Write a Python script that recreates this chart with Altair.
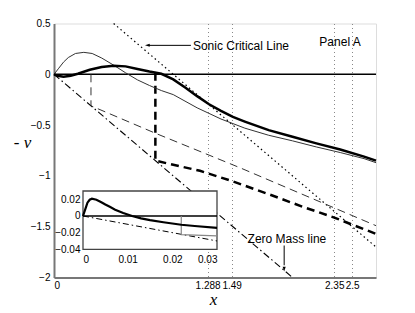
import altair as alt
import pandas as pd

# ---------------- main panel data ----------------
thick_x = [0, 0.03, 0.08, 0.14, 0.2, 0.3, 0.4, 0.5, 0.6, 0.7, 0.8, 0.9, 1.0, 1.1, 1.2, 1.3, 1.4, 1.5, 1.6, 1.8, 2.0, 2.2, 2.4, 2.6, 2.7]
thick_v = [0, -0.015, -0.025, -0.015, 0.005, 0.045, 0.072, 0.085, 0.078, 0.052, 0.027, 0.005, -0.05, -0.13, -0.215, -0.295, -0.36, -0.42, -0.465, -0.55, -0.615, -0.68, -0.74, -0.81, -0.85]

thin_x = [0, 0.04, 0.08, 0.12, 0.18, 0.25, 0.32, 0.4, 0.5, 0.6, 0.7, 0.8, 0.9, 1.0, 1.2, 1.4, 1.6, 1.8, 2.0, 2.2, 2.4, 2.6, 2.7]
thin_v = [0, 0.06, 0.12, 0.165, 0.205, 0.216, 0.205, 0.16, 0.09, 0.015, -0.055, -0.11, -0.16, -0.2, -0.33, -0.44, -0.53, -0.6, -0.655, -0.715, -0.77, -0.83, -0.87]

thickdash_x = [0.85, 0.85, 1.0, 1.224, 1.49, 1.8, 2.1, 2.35, 2.5, 2.7]
thickdash_v = [0.016, -0.85, -0.89, -0.95, -1.05, -1.18, -1.31, -1.41, -1.48, -1.57]

thindash_x = [0.31, 0.31, 0.85, 1.56, 2.7]
thindash_v = [0.0, -0.31, -0.58, -0.92, -1.49]

sonic_x = [0.5, 2.7]
sonic_v = [0.5, -1.7]

zeromass_x = [0.0, 2.0]
zeromass_v = [0.0, -2.0]

zero_x = [0.0, 2.7]
zero_v = [0.0, 0.0]

x_domain = [0, 2.7]
y_domain = [-2, 0.5]
x_ticks = [0, 1.288, 1.49, 2.35, 2.5]
y_ticks = [-2, -1.5, -1, -0.5, 0, 0.5]

# annotations
labels_text = ["Sonic Critical Line", "Panel A"]
labels_x = [1.165, 2.225]
labels_v = [0.275, 0.32]
zm_label = ["Zero Mass line"]
zm_label_x = [1.953]
zm_label_v = [-1.62]
sonic_arrow_x = [1.148, 0.79]
sonic_arrow_v = [0.285, 0.285]
sonic_head = ([0.763], [0.285])
zm_arrow_x = [1.93, 1.93]
zm_arrow_v = [-1.685, -1.88]
zm_head = ([1.93], [-1.94])

# ---------------- inset data ----------------
in_x_domain = [0, 0.03]
in_y_domain = [-0.04, 0.03]
in_x_ticks = [0, 0.01, 0.02, 0.03]
in_y_ticks = [-0.04, -0.02, 0, 0.02]
in_thick_x = [0, 0.0005, 0.001, 0.0015, 0.002, 0.003, 0.004, 0.005, 0.006, 0.0072, 0.009, 0.011, 0.013, 0.015, 0.018, 0.02, 0.022, 0.025, 0.03]
in_thick_v = [0, 0.008, 0.016, 0.0195, 0.0208, 0.0195, 0.0168, 0.0138, 0.011, 0.0076, 0.0035, 0.0, -0.0028, -0.005, -0.0075, -0.009, -0.0105, -0.012, -0.0142]
in_zm_x = [0.0, 0.03]
in_zm_v = [0.0, -0.03]
in_zero_x = [0.0, 0.03]
in_zero_v = [0.0, 0.0]
in_gray_x = [0.022, 0.022, 0.03]
in_gray_v = [0.0, -0.0224, -0.0238]


def df(xs, vs):
    return pd.DataFrame({"x": xs, "v": vs, "i": list(range(len(xs)))})


FONT = "Liberation Sans"
SERIF = "Liberation Serif"

xs = alt.Scale(domain=x_domain, nice=False, zero=False)
ys = alt.Scale(domain=y_domain, nice=False, zero=False)

x_axis = alt.Axis(values=x_ticks, labelExpr="'' + datum.value", grid=True, gridDash=[1, 3],
                  gridColor="#888", gridWidth=1, domain=True, domainColor="#777", domainWidth=2,
                  ticks=False, labelFontSize=10, labelPadding=3, labelOverlap=False,
                  labelColor="black", title="x", titleFont=SERIF, titleFontStyle="italic",
                  titleFontWeight="normal", titleFontSize=17, titleX=159, titleY=26.5,
                  titleAlign="center", titleBaseline="alphabetic", titleColor="black")
y_axis = alt.Axis(values=y_ticks, format="~g", grid=False, domain=True, domainColor="#777",
                  domainWidth=2, ticks=False, labelFontSize=10, labelPadding=4,
                  labelColor="black", title="- v", titleAngle=0, titleX=-32, titleY=119,
                  titleAlign="center", titleBaseline="middle", titleFont=SERIF,
                  titleFontStyle="italic", titleFontWeight="normal", titleFontSize=17,
                  titleColor="black")

X = alt.X("x:Q", scale=xs, axis=x_axis)
Y = alt.Y("v:Q", scale=ys, axis=y_axis)


def mline(d, width, color="black", dash=None):
    kw = dict(strokeWidth=width, color=color)
    if dash:
        kw["strokeDash"] = dash
    return alt.Chart(d).mark_line(**kw).encode(x=X, y=Y, order=alt.Order("i:Q"))


main = alt.layer(
    mline(df(zero_x, zero_v), 1.4),
    mline(df(sonic_x, sonic_v), 1.2, dash=[1.5, 3]),
    mline(df(zeromass_x, zeromass_v), 1.1, dash=[7, 3, 1.5, 3]),
    mline(df(thindash_x, thindash_v), 1.0, color="#333", dash=[8, 5]),
    mline(df(thickdash_x, thickdash_v), 2.5, dash=[8, 5]),
    mline(df(thin_x, thin_v), 1.0, color="#333"),
    mline(df(thick_x, thick_v), 2.5),
    mline(df(sonic_arrow_x, sonic_arrow_v), 1.0),
    mline(df(zm_arrow_x, zm_arrow_v), 1.0),
    alt.Chart(df(*sonic_head)).mark_point(shape="M0,0L1,-0.32L1,0.32Z", filled=True,
                                          color="black", opacity=1, size=90).encode(x=X, y=Y),
    alt.Chart(df(*zm_head)).mark_point(shape="M0,0L-0.32,-1L0.32,-1Z", filled=True,
                                       color="black", opacity=1, size=90).encode(x=X, y=Y),
    alt.Chart(pd.DataFrame({"x": labels_x, "v": labels_v, "t": labels_text})).mark_text(
        align="left", baseline="middle", fontSize=12, font=FONT, color="black").encode(
        x=X, y=Y, text="t:N"),
    alt.Chart(pd.DataFrame({"x": zm_label_x, "v": zm_label_v, "t": zm_label})).mark_text(
        align="center", baseline="middle", fontSize=12, font=FONT, color="black").encode(
        x=X, y=Y, text="t:N"),
)

# ---------------- inset ----------------
ixs = alt.Scale(domain=in_x_domain, range=[29, 163], nice=False, zero=False)
iys = alt.Scale(domain=in_y_domain, range=[225.8, 167.5], nice=False, zero=False)
ix_axis = alt.Axis(orient="bottom", offset=-28.2, values=in_x_ticks, format="~g", grid=False,
                   domain=False, ticks=False, labelFontSize=10, labelPadding=5,
                   labelColor="black", labelOverlap=False, title=None, zindex=1)
iy_axis = alt.Axis(orient="left", offset=-29, values=in_y_ticks, format="~g", grid=False,
                   domain=False, ticks=False, labelFontSize=10, labelPadding=3,
                   labelColor="black", title=None, zindex=1)
IX = alt.X("x:Q", scale=ixs, axis=ix_axis)
IY = alt.Y("v:Q", scale=iys, axis=iy_axis)


def iline(d, width, color="black", dash=None):
    kw = dict(strokeWidth=width, color=color)
    if dash:
        kw["strokeDash"] = dash
    return alt.Chart(d).mark_line(**kw).encode(x=IX, y=IY, order=alt.Order("i:Q"))


box = pd.DataFrame({"x": [in_x_domain[0]], "x2": [in_x_domain[1]],
                    "v": [in_y_domain[0]], "v2": [in_y_domain[1]]})
inset = alt.layer(
    alt.Chart(box).mark_rect(fill="white", stroke="#444", strokeWidth=1.3).encode(
        x=IX, x2="x2:Q", y=IY, y2="v2:Q"),
    iline(df(in_zero_x, in_zero_v), 1.3),
    iline(df(in_zm_x, in_zm_v), 1.0, dash=[6, 3, 1.5, 3]),
    iline(df(in_gray_x, in_gray_v), 1.2, color="#888"),
    iline(df(in_thick_x, in_thick_v), 2.2),
)

chart = alt.layer(main, inset).resolve_scale(x="independent", y="independent").properties(
    width=322, height=254,
    padding={"left": 46, "top": 15.5, "right": 30, "bottom": 34},
    autosize=alt.AutoSizeParams(type="none"),
).configure_view(stroke="black", strokeWidth=1).configure(font=FONT)

chart.save("out.html", embed_options={"renderer": "svg", "actions": False})
